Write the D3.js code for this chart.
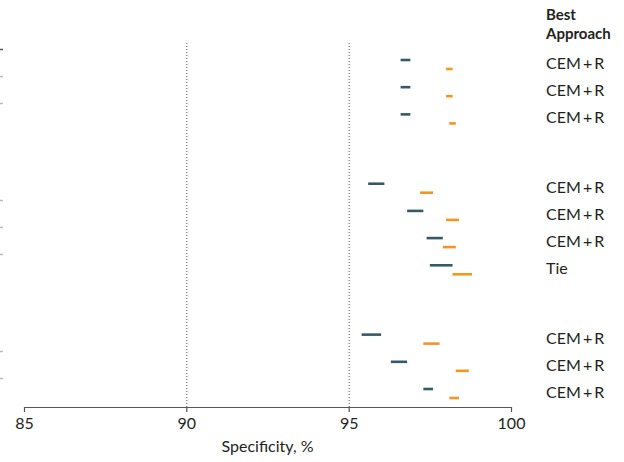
<!DOCTYPE html>
<html>
<head>
<meta charset="utf-8">
<script src="https://cdn.jsdelivr.net/npm/d3@7"></script>
<style>
  body { margin: 0; background: #fff; }
  svg text { font-family: Lato, "Open Sans", sans-serif; fill: #231f20; }
</style>
</head>
<body>
<div id="chart"></div>
<script>
// specificity intervals per row
const groups = [0, 0, 0, 1, 1, 1, 1, 2, 2, 2];
const bestApproach = ["CEM + R", "CEM + R", "CEM + R", "CEM + R", "CEM + R", "CEM + R", "Tie", "CEM + R", "CEM + R", "CEM + R"];
const darkLow = [96.6, 96.6, 96.6, 95.6, 96.8, 97.4, 97.5, 95.4, 96.3, 97.3];
const darkHigh = [96.9, 96.9, 96.9, 96.1, 97.3, 97.9, 98.2, 96.0, 96.8, 97.6];
const orangeLow = [98.0, 98.0, 98.1, 97.2, 98.0, 97.9, 98.2, 97.3, 98.3, 98.1];
const orangeHigh = [98.2, 98.2, 98.3, 97.6, 98.4, 98.3, 98.8, 97.8, 98.7, 98.4];
const xTicks = [85, 90, 95, 100];
const refLines = [90, 95];
// rows where the cut-off left panel still shows a sliver
const edgeRows = [0, 1, 2, 4, 5, 6, 8, 9];

const w = 624;
const h = 462;
const groupGap = 1.55; // extra empty slots between groups

// slot position of each row (row index + gap per group)
const slots = groups.map((g, i) => i + g * groupGap);

const xScale = d3.scaleLinear()
  .domain([85, 100])
  .range([24, 511]);

const yScale = d3.scaleLinear()
  .domain([0, d3.max(slots)])
  .range([64.5, 393.5]);

const svg = d3.select("#chart")
  .append("svg")
  .attr("width", w)
  .attr("height", h);

// dotted reference lines
svg.selectAll("line.ref")
  .data(refLines)
  .enter()
  .append("line")
  .attr("class", "ref")
  .attr("x1", d => xScale(d) + 0.5)
  .attr("x2", d => xScale(d) + 0.5)
  .attr("y1", 43)
  .attr("y2", 407)
  .attr("stroke", "#555")
  .attr("stroke-width", 1)
  .attr("stroke-dasharray", "1,2");

// slivers of the neighbouring panel on the left edge
svg.selectAll("line.edge")
  .data(edgeRows)
  .enter()
  .append("line")
  .attr("class", "edge")
  .attr("x1", 0)
  .attr("x2", 3)
  .attr("y1", i => Math.round(yScale(slots[i]) - 15.5) + 0.5)
  .attr("y2", i => Math.round(yScale(slots[i]) - 15.5) + 0.5)
  .attr("stroke", (i, k) => k === 0 ? "#555" : "#bbb")
  .attr("stroke-width", 1.5);

const rows = groups.map((g, i) => i);

// dark segments (first approach)
svg.selectAll("line.dark")
  .data(rows)
  .enter()
  .append("line")
  .attr("class", "dark")
  .attr("x1", i => xScale(darkLow[i]))
  .attr("x2", i => xScale(darkHigh[i]))
  .attr("y1", i => yScale(slots[i]) - 4.5)
  .attr("y2", i => yScale(slots[i]) - 4.5)
  .attr("stroke", "#345a69")
  .attr("stroke-width", 2.6);

// orange segments (second approach)
svg.selectAll("line.orange")
  .data(rows)
  .enter()
  .append("line")
  .attr("class", "orange")
  .attr("x1", i => xScale(orangeLow[i]))
  .attr("x2", i => xScale(orangeHigh[i]))
  .attr("y1", i => yScale(slots[i]) + 4.5)
  .attr("y2", i => yScale(slots[i]) + 4.5)
  .attr("stroke", "#f7941d")
  .attr("stroke-width", 2.6);

// best approach labels
svg.selectAll("text.best")
  .data(rows)
  .enter()
  .append("text")
  .attr("class", "best")
  .attr("x", 546)
  .attr("y", i => yScale(slots[i]) + 4.5)
  .attr("font-size", 16)
  .attr("word-spacing", -2)
  .text(i => bestApproach[i]);

const header = svg.append("text")
  .attr("x", 546)
  .attr("y", 20)
  .attr("font-size", 15)
  .attr("font-weight", "bold");
header.append("tspan").attr("x", 546).text("Best");
header.append("tspan").attr("x", 546).attr("dy", 18.5).text("Approach");

// x axis
const xAxis = d3.axisBottom(xScale)
  .tickValues(xTicks)
  .tickSize(5)
  .tickSizeOuter(0);

const gx = svg.append("g")
  .attr("transform", "translate(0,407)")
  .call(xAxis);
gx.select(".domain").attr("stroke", "#555").attr("stroke-width", 1.2);
gx.selectAll(".tick line").attr("stroke", "#555").attr("stroke-width", 1.2);
gx.selectAll(".tick text")
  .attr("font-size", 16)
  .attr("font-family", "Lato, sans-serif")
  .attr("fill", "#231f20")
  .attr("dy", "0.9em");

svg.append("text")
  .attr("x", (xScale(85) + xScale(100)) / 2)
  .attr("y", 452)
  .attr("text-anchor", "middle")
  .attr("font-size", 16)
  .text("Specificity, %");
</script>
</body>
</html>
